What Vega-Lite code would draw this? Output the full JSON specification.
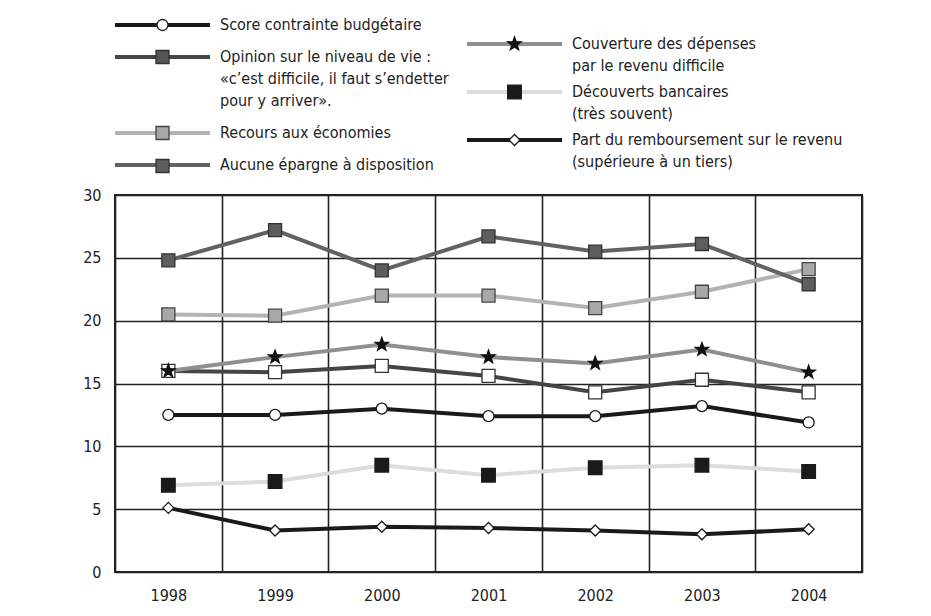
{
  "$schema": "https://vega.github.io/schema/vega-lite/v6.json",
  "width": 747,
  "height": 377,
  "autosize": "none",
  "padding": {"left": 115, "top": 195, "right": 69, "bottom": 44},
  "background": "white",
  "data": {"values": [
    {"year": "1998", "series": "Score contrainte budgétaire", "value": 12.5},
    {"year": "1999", "series": "Score contrainte budgétaire", "value": 12.5},
    {"year": "2000", "series": "Score contrainte budgétaire", "value": 13.0},
    {"year": "2001", "series": "Score contrainte budgétaire", "value": 12.4},
    {"year": "2002", "series": "Score contrainte budgétaire", "value": 12.4},
    {"year": "2003", "series": "Score contrainte budgétaire", "value": 13.2},
    {"year": "2004", "series": "Score contrainte budgétaire", "value": 11.9},
    {"year": "1998", "series": "Opinion sur le niveau de vie :|«c’est difficile, il faut s’endetter|pour y arriver».", "value": 16.0},
    {"year": "1999", "series": "Opinion sur le niveau de vie :|«c’est difficile, il faut s’endetter|pour y arriver».", "value": 15.9},
    {"year": "2000", "series": "Opinion sur le niveau de vie :|«c’est difficile, il faut s’endetter|pour y arriver».", "value": 16.4},
    {"year": "2001", "series": "Opinion sur le niveau de vie :|«c’est difficile, il faut s’endetter|pour y arriver».", "value": 15.6},
    {"year": "2002", "series": "Opinion sur le niveau de vie :|«c’est difficile, il faut s’endetter|pour y arriver».", "value": 14.3},
    {"year": "2003", "series": "Opinion sur le niveau de vie :|«c’est difficile, il faut s’endetter|pour y arriver».", "value": 15.3},
    {"year": "2004", "series": "Opinion sur le niveau de vie :|«c’est difficile, il faut s’endetter|pour y arriver».", "value": 14.3},
    {"year": "1998", "series": "Recours aux économies", "value": 20.5},
    {"year": "1999", "series": "Recours aux économies", "value": 20.4},
    {"year": "2000", "series": "Recours aux économies", "value": 22.0},
    {"year": "2001", "series": "Recours aux économies", "value": 22.0},
    {"year": "2002", "series": "Recours aux économies", "value": 21.0},
    {"year": "2003", "series": "Recours aux économies", "value": 22.3},
    {"year": "2004", "series": "Recours aux économies", "value": 24.1},
    {"year": "1998", "series": "Aucune épargne à disposition", "value": 24.8},
    {"year": "1999", "series": "Aucune épargne à disposition", "value": 27.2},
    {"year": "2000", "series": "Aucune épargne à disposition", "value": 24.0},
    {"year": "2001", "series": "Aucune épargne à disposition", "value": 26.7},
    {"year": "2002", "series": "Aucune épargne à disposition", "value": 25.5},
    {"year": "2003", "series": "Aucune épargne à disposition", "value": 26.1},
    {"year": "2004", "series": "Aucune épargne à disposition", "value": 22.9},
    {"year": "1998", "series": "Couverture des dépenses|par le revenu difficile", "value": 16.0},
    {"year": "1999", "series": "Couverture des dépenses|par le revenu difficile", "value": 17.1},
    {"year": "2000", "series": "Couverture des dépenses|par le revenu difficile", "value": 18.1},
    {"year": "2001", "series": "Couverture des dépenses|par le revenu difficile", "value": 17.1},
    {"year": "2002", "series": "Couverture des dépenses|par le revenu difficile", "value": 16.6},
    {"year": "2003", "series": "Couverture des dépenses|par le revenu difficile", "value": 17.7},
    {"year": "2004", "series": "Couverture des dépenses|par le revenu difficile", "value": 15.9},
    {"year": "1998", "series": "Découverts bancaires|(très souvent)", "value": 6.9},
    {"year": "1999", "series": "Découverts bancaires|(très souvent)", "value": 7.2},
    {"year": "2000", "series": "Découverts bancaires|(très souvent)", "value": 8.5},
    {"year": "2001", "series": "Découverts bancaires|(très souvent)", "value": 7.7},
    {"year": "2002", "series": "Découverts bancaires|(très souvent)", "value": 8.3},
    {"year": "2003", "series": "Découverts bancaires|(très souvent)", "value": 8.5},
    {"year": "2004", "series": "Découverts bancaires|(très souvent)", "value": 8.0},
    {"year": "1998", "series": "Part du remboursement sur le revenu|(supérieure à un tiers)", "value": 5.1},
    {"year": "1999", "series": "Part du remboursement sur le revenu|(supérieure à un tiers)", "value": 3.3},
    {"year": "2000", "series": "Part du remboursement sur le revenu|(supérieure à un tiers)", "value": 3.6},
    {"year": "2001", "series": "Part du remboursement sur le revenu|(supérieure à un tiers)", "value": 3.5},
    {"year": "2002", "series": "Part du remboursement sur le revenu|(supérieure à un tiers)", "value": 3.3},
    {"year": "2003", "series": "Part du remboursement sur le revenu|(supérieure à un tiers)", "value": 3.0},
    {"year": "2004", "series": "Part du remboursement sur le revenu|(supérieure à un tiers)", "value": 3.4}
  ]},
  "encoding": {
    "x": {"field": "year", "type": "ordinal", "scale": {"type": "band", "paddingInner": 0, "paddingOuter": 0},
      "axis": {"title": null, "labelAngle": 0, "tickBand": "extent", "grid": true, "gridColor": "#222", "gridWidth": 1.6, "gridOpacity": 1, "ticks": false, "domain": false, "labelFontSize": 16, "labelColor": "#222", "labelPadding": 15}},
    "y": {"field": "value", "type": "quantitative", "scale": {"domain": [0, 30], "nice": false},
      "axis": {"title": null, "values": [0, 5, 10, 15, 20, 25, 30], "grid": true, "gridColor": "#222", "gridWidth": 1.6, "gridOpacity": 1, "ticks": false, "domain": false, "labelFontSize": 16, "labelColor": "#222", "labelPadding": 14}}
  },
  "layer": [
    {
      "transform": [{"filter": {"field": "series", "oneOf": ["Score contrainte budgétaire", "Opinion sur le niveau de vie :|«c’est difficile, il faut s’endetter|pour y arriver».", "Recours aux économies", "Aucune épargne à disposition"]}}],
      "mark": {"type": "line", "strokeWidth": 4},
      "encoding": {
        "color": {"field": "series", "type": "nominal",
          "scale": {"domain": ["Score contrainte budgétaire", "Opinion sur le niveau de vie :|«c’est difficile, il faut s’endetter|pour y arriver».", "Recours aux économies", "Aucune épargne à disposition"], "range": ["#1a1a1a", "#454545", "#b3b3b3", "#626262"]},
          "legend": {"orient": "none", "legendX": 38, "legendY": -179.5, "title": null, "symbolType": "M-6.552,0H6.552", "symbolSize": 210.25, "symbolStrokeWidth": 4, "labelFontSize": 16, "labelColor": "#222", "labelLimit": 400, "labelOffset": 48, "labelExpr": "split(datum.label, '|')", "rowPadding": 14}}
      }
    },
    {
      "transform": [{"filter": {"field": "series", "oneOf": ["Couverture des dépenses|par le revenu difficile", "Découverts bancaires|(très souvent)", "Part du remboursement sur le revenu|(supérieure à un tiers)"]}}],
      "mark": {"type": "line", "strokeWidth": 4},
      "encoding": {
        "color": {"field": "series", "type": "nominal",
          "scale": {"domain": ["Couverture des dépenses|par le revenu difficile", "Découverts bancaires|(très souvent)", "Part du remboursement sur le revenu|(supérieure à un tiers)"], "range": ["#8f8f8f", "#dcdcdc", "#1a1a1a"]},
          "legend": {"orient": "none", "legendX": 390, "legendY": -160.5, "title": null, "symbolType": "M-6.552,0H6.552", "symbolSize": 210.25, "symbolStrokeWidth": 4, "labelFontSize": 16, "labelColor": "#222", "labelLimit": 400, "labelOffset": 48, "labelExpr": "split(datum.label, '|')", "rowPadding": 8}}
      }
    },
    {
      "transform": [{"filter": {"field": "series", "oneOf": ["Score contrainte budgétaire", "Opinion sur le niveau de vie :|«c’est difficile, il faut s’endetter|pour y arriver».", "Recours aux économies", "Aucune épargne à disposition"]}}],
      "mark": {"type": "point", "filled": true, "opacity": 1, "size": 289, "strokeWidth": 1.3},
      "encoding": {
        "shape": {"field": "series", "type": "nominal",
          "scale": {"domain": ["Score contrainte budgétaire", "Opinion sur le niveau de vie :|«c’est difficile, il faut s’endetter|pour y arriver».", "Recours aux économies", "Aucune épargne à disposition"],
            "range": ["M-0.647,0A0.647,0.647,0,1,0,0.647,0A0.647,0.647,0,1,0,-0.647,0Z", "M-0.765,-0.765H0.765V0.765H-0.765Z", "M-0.765,-0.765H0.765V0.765H-0.765Z", "M-0.765,-0.765H0.765V0.765H-0.765Z"]},
          "legend": {"orient": "none", "legendX": 38, "legendY": -179.5, "title": null, "symbolSize": 289, "symbolStrokeWidth": 1.3, "symbolOpacity": 1, "labelFontSize": 16, "labelOpacity": 0, "labelLimit": 400, "labelOffset": 48, "labelExpr": "split(datum.label, '|')", "rowPadding": 14}},
        "fill": {"condition": {"test": "datum.series == 'Opinion sur le niveau de vie :|«c’est difficile, il faut s’endetter|pour y arriver».'", "value": "#ffffff"},
          "field": "series", "type": "nominal",
          "scale": {"domain": ["Score contrainte budgétaire", "Opinion sur le niveau de vie :|«c’est difficile, il faut s’endetter|pour y arriver».", "Recours aux économies", "Aucune épargne à disposition"], "range": ["#ffffff", "#555555", "#a8a8a8", "#5e5e5e"]}},
        "stroke": {"field": "series", "type": "nominal",
          "scale": {"domain": ["Score contrainte budgétaire", "Opinion sur le niveau de vie :|«c’est difficile, il faut s’endetter|pour y arriver».", "Recours aux économies", "Aucune épargne à disposition"], "range": ["#1a1a1a", "#333333", "#444444", "#333333"]}}
      }
    },
    {
      "transform": [{"filter": {"field": "series", "oneOf": ["Couverture des dépenses|par le revenu difficile", "Découverts bancaires|(très souvent)", "Part du remboursement sur le revenu|(supérieure à un tiers)"]}}],
      "mark": {"type": "point", "filled": true, "opacity": 1, "size": 289, "strokeWidth": 1.3},
      "encoding": {
        "shape": {"field": "series", "type": "nominal",
          "scale": {"domain": ["Couverture des dépenses|par le revenu difficile", "Découverts bancaires|(très souvent)", "Part du remboursement sur le revenu|(supérieure à un tiers)"],
            "range": ["M0,-0.8235L0.1975,-0.2718L0.7832,-0.2545L0.3196,0.1038L0.484,0.6662L0,0.336L-0.484,0.6662L-0.3196,0.1038L-0.7832,-0.2545L-0.1975,-0.2718Z", "M-0.8,-0.8H0.8V0.8H-0.8Z", "M0,-0.647L0.647,0L0,0.647L-0.647,0Z"]},
          "legend": {"orient": "none", "legendX": 390, "legendY": -160.5, "title": null, "symbolSize": 289, "symbolStrokeWidth": 1.3, "symbolOpacity": 1, "labelFontSize": 16, "labelOpacity": 0, "labelLimit": 400, "labelOffset": 48, "labelExpr": "split(datum.label, '|')", "rowPadding": 8}},
        "fill": {"field": "series", "type": "nominal",
          "scale": {"domain": ["Couverture des dépenses|par le revenu difficile", "Découverts bancaires|(très souvent)", "Part du remboursement sur le revenu|(supérieure à un tiers)"], "range": ["#111111", "#1a1a1a", "#ffffff"]}},
        "stroke": {"field": "series", "type": "nominal",
          "scale": {"domain": ["Couverture des dépenses|par le revenu difficile", "Découverts bancaires|(très souvent)", "Part du remboursement sur le revenu|(supérieure à un tiers)"], "range": ["#111111", "#1a1a1a", "#1a1a1a"]}}
      }
    }
  ],
  "resolve": {"scale": {"color": "independent", "shape": "independent", "fill": "independent", "stroke": "independent"}, "legend": {"color": "independent", "shape": "independent", "fill": "independent", "stroke": "independent"}},
  "config": {
    "font": "Liberation Sans Narrow, Arial Narrow, DejaVu Sans Condensed, sans-serif",
    "view": {"stroke": "#222", "strokeWidth": 2},
    "legend": {"padding": 0, "labelFont": "Liberation Sans Narrow, Arial Narrow, DejaVu Sans Condensed, sans-serif"},
    "style": {"guide-label": {"lineHeight": 22}}
  }
}
